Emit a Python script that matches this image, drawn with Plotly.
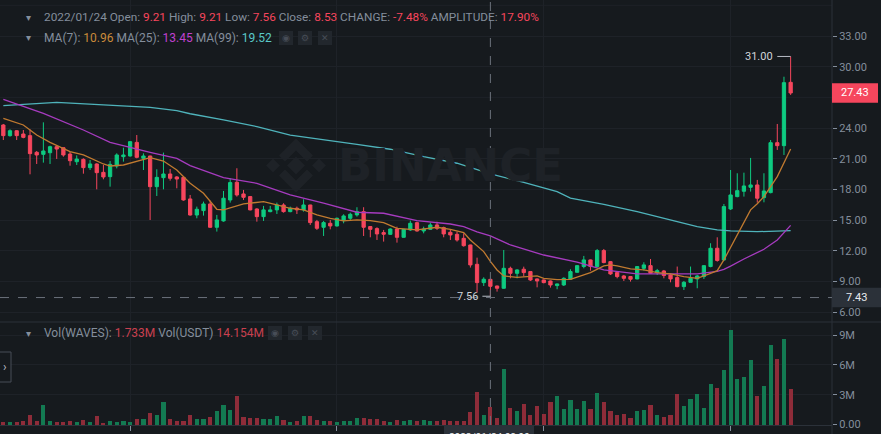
import plotly.graph_objects as go

# ---------------- data (daily candles, WAVES/USDT) ----------------
opens = [24.30,23.26,23.74,23.42,23.26,21.63,21.43,21.59,22.18,22.08,21.46,20.71,20.94,20.13,20.49,19.67,19.25,20.29,21.20,21.27,
         22.60,21.04,21.27,18.27,19.15,19.51,19.22,19.18,17.07,15.50,15.93,16.58,14.30,14.92,16.97,18.70,17.56,17.30,16.09,15.34,
         15.83,16.00,16.48,15.83,16.16,16.00,16.48,14.85,14.30,14.69,14.43,14.95,15.18,15.51,15.83,14.37,14.17,13.78,13.61,14.13,
         13.32,14.04,14.75,13.94,14.10,14.53,14.27,13.81,13.61,13.22,12.57,10.68,8.89,9.21,8.56,8.34,10.29,9.80,10.20,9.97,
         9.25,9.15,9.05,8.60,8.66,9.22,9.90,10.46,11.11,10.46,12.02,10.94,9.87,9.54,9.48,9.25,10.29,10.55,9.87,10.03,
         9.64,9.38,8.50,8.92,9.25,9.48,10.46,12.25,11.11,16.09,17.30,17.82,18.21,18.44,17.20,17.69,22.57,22.28,28.47]
highs = [24.40,23.88,23.80,23.81,23.88,21.76,24.56,22.28,22.28,22.10,21.69,21.33,21.04,20.88,20.55,20.39,20.78,21.53,22.08,22.73,
         23.32,21.53,21.30,19.97,21.60,20.00,19.30,19.20,17.46,16.32,16.81,16.91,15.51,17.85,19.09,20.07,17.95,17.36,16.16,16.39,
         16.39,16.71,16.65,16.32,16.32,17.04,16.50,15.02,14.92,15.02,15.25,15.57,15.73,16.26,16.26,14.40,14.30,14.04,14.20,14.36,
         14.10,14.95,14.85,14.36,14.75,14.85,14.36,14.04,13.87,13.71,12.60,11.33,9.41,9.21,8.60,12.08,10.45,10.20,10.45,9.97,
         9.30,9.20,9.10,8.80,9.41,10.20,10.60,11.50,11.15,12.18,12.18,11.00,9.90,9.64,9.54,10.50,10.88,11.20,10.23,10.13,
         9.80,10.46,9.05,10.46,9.64,10.55,12.74,13.32,16.58,19.90,19.58,19.64,21.08,18.93,19.58,22.83,24.40,29.02,31.00]
lows = [22.83,23.16,22.83,23.00,19.48,20.49,20.62,20.49,20.98,21.20,20.32,20.39,19.54,19.90,18.01,18.99,18.27,20.06,20.72,21.20,
        21.04,19.90,15.01,17.36,18.01,18.86,18.11,16.90,15.44,15.18,15.44,14.25,13.88,14.85,16.71,17.30,16.97,15.95,14.85,14.92,
        15.77,15.60,15.73,15.77,15.60,15.83,14.53,14.04,13.45,14.10,14.37,14.69,15.02,15.34,13.45,13.32,13.06,12.90,13.55,12.80,
        13.29,13.94,13.87,13.71,14.04,14.04,13.32,13.06,12.90,12.41,10.36,7.91,8.56,7.56,8.01,8.30,9.31,9.31,9.48,9.05,
        8.43,8.82,8.40,8.24,8.56,9.15,9.87,10.29,10.06,10.39,10.78,9.64,9.31,9.05,8.99,9.22,10.06,9.74,9.64,9.31,
        8.92,8.43,8.17,8.92,8.34,9.25,10.39,10.94,11.04,15.99,17.23,17.30,17.79,16.71,16.74,17.62,21.86,21.37,27.24]
closes = [23.26,23.74,23.26,23.09,21.50,21.37,21.76,22.18,21.95,21.37,20.81,20.97,20.13,20.49,19.64,19.22,20.45,21.37,21.37,22.67,
          21.14,21.27,18.27,19.18,19.51,19.09,19.02,16.97,15.50,16.06,16.58,14.30,15.02,17.14,18.67,17.46,17.23,16.00,15.34,16.00,
          16.00,16.48,15.83,16.16,16.00,16.48,14.76,14.20,14.76,14.43,15.18,15.41,15.57,15.83,14.30,14.10,13.65,13.62,14.13,13.32,
          14.10,14.69,13.94,14.13,14.53,14.20,13.65,13.55,13.06,12.50,10.62,8.89,9.22,8.53,8.34,10.29,9.80,10.13,9.87,9.15,
          9.05,8.89,8.66,8.76,9.31,9.97,10.55,11.11,10.46,12.02,10.85,9.74,9.48,9.31,9.22,10.46,10.62,9.80,10.06,9.58,
          9.25,8.50,8.92,9.31,9.54,10.55,12.25,11.05,16.32,17.46,17.88,18.34,18.44,17.14,17.85,22.57,22.28,28.44,27.43]
volumes_m = [0.30,0.30,0.30,0.40,0.91,0.40,1.98,0.37,0.23,0.23,0.40,0.30,0.50,0.27,0.87,0.17,0.37,0.30,0.34,0.30,
             0.54,0.57,1.11,0.94,2.25,0.54,0.34,0.37,0.91,0.60,0.57,0.74,1.41,1.98,1.51,2.89,0.77,0.64,0.67,0.57,
             0.54,0.81,0.50,0.30,0.37,0.81,0.87,0.50,0.37,0.37,0.30,0.40,0.40,0.64,0.64,0.54,0.54,0.40,0.30,0.50,
             0.34,0.47,0.40,0.50,0.40,0.40,0.47,0.40,0.40,0.40,1.21,3.26,0.91,1.733,0.70,5.54,1.68,1.41,2.11,0.97,
             1.91,1.01,2.28,2.82,1.54,2.42,1.58,2.32,1.54,3.22,2.28,1.31,0.91,1.01,0.67,1.31,1.48,2.01,0.91,0.74,
             0.91,3.12,1.88,2.52,3.05,1.64,4.06,3.66,5.44,9.47,4.60,4.77,6.45,2.92,3.86,7.96,6.55,8.63,3.59]

# moving averages (candle index -> value)
ma7_idx = [0,3,5,7,10,12,15,16,18,20,22,24,26,28,30,32,33,36,39,41,43,45,47,49,51,53,55,57,59,62,65,67,69,70,72,73,74,75,77,80,
           81,83,85,88,90,91,92,94,96,98,100,102,104,106,107,108,109,110,111,112,113,114,116,117,118]
ma7_val = [24.95,24.30,23.32,22.60,21.69,21.37,20.49,20.29,20.39,20.78,21.11,20.78,19.90,18.60,17.62,16.06,16.00,16.58,16.81,16.48,
           16.16,16.00,15.51,15.18,14.92,15.02,14.95,14.75,14.20,14.04,14.30,14.10,13.78,13.06,11.92,10.96,10.13,9.54,9.41,9.54,
           9.31,9.18,9.20,9.87,10.52,10.62,10.52,10.23,10.13,9.87,9.74,9.48,9.31,9.80,10.06,11.11,12.30,13.50,14.75,16.00,16.60,17.30,19.25,20.60,21.96]
ma25_idx = [0,6,12,16,22,26,28,33,38,43,48,53,57,62,67,69,71,73,76,81,86,90,95,100,104,107,108,109,111,114,116,118]
ma25_val = [26.81,25.44,23.81,22.60,21.63,21.04,20.33,19.16,18.60,17.46,16.65,15.77,15.67,14.95,14.62,14.36,13.85,13.45,12.57,11.59,
            10.90,10.13,9.74,9.74,9.74,10.00,10.19,10.50,11.20,12.15,13.06,14.49]
ma99_idx = [0,8,15,22,26,28,33,38,43,48,53,58,63,68,73,78,83,85,90,95,100,104,107,109,113,118]
ma99_val = [26.19,26.52,26.26,26.03,25.70,25.40,24.79,24.14,23.32,22.83,22.41,21.93,21.20,20.56,19.52,18.70,17.78,17.15,16.55,15.83,
            15.02,14.37,14.04,13.94,13.87,13.97]

date_tick_idx = [19, 50, 81, 109]
date_tick_text = ["12/01", "2022", "02/01", "03/01"]
price_ticks = [6, 9, 12, 15, 18, 21, 24, 30, 33]
price_grid_extra = [27, 36]
vol_ticks = [0, 3e6, 6e6, 9e6]
vol_tick_text = ["0.00", "3M", "6M", "9M"]

cross_idx = 73
cross_price = 7.43
last_price = 27.43
high_idx, high_val = 118, 31.00
low_idx, low_val = 73, 7.56

# ---------------- styling ----------------
BG = "#161A1E"
GRID = "#1E2228"
TXT = "#848E9C"
GREEN = "#0ECB81"
RED = "#F6465D"
VGREEN = "#137A52"
VRED = "#8E2C39"
FONT = "Roboto"
W, H = 881, 434

def px(x):
    return x / W

def py(y):
    return 1 - y / H

x_idx = list(range(len(opens)))
vol = [v * 1e6 for v in volumes_m]
vcol = [VGREEN if c >= o else VRED for o, c in zip(opens, closes)]

fig = go.Figure()
fig.add_trace(go.Candlestick(
    x=x_idx, open=opens, high=highs, low=lows, close=closes,
    increasing=dict(line=dict(color=GREEN, width=1), fillcolor=GREEN),
    decreasing=dict(line=dict(color=RED, width=1), fillcolor=RED),
    whiskerwidth=0, xaxis="x", yaxis="y", showlegend=False, hoverinfo="skip"))
fig.add_trace(go.Scatter(x=ma99_idx, y=ma99_val, mode="lines", line=dict(color="#4FB3BB", width=1.3),
                         xaxis="x", yaxis="y", showlegend=False, hoverinfo="skip"))
fig.add_trace(go.Scatter(x=ma25_idx, y=ma25_val, mode="lines", line=dict(color="#A63BBF", width=1.3),
                         xaxis="x", yaxis="y", showlegend=False, hoverinfo="skip"))
fig.add_trace(go.Scatter(x=ma7_idx, y=ma7_val, mode="lines", line=dict(color="#C07A30", width=1.3),
                         xaxis="x", yaxis="y", showlegend=False, hoverinfo="skip"))
fig.add_trace(go.Bar(x=x_idx, y=vol, marker=dict(color=vcol, line=dict(width=0)), width=0.62,
                     xaxis="x2", yaxis="y2", showlegend=False, hoverinfo="skip"))

XD = [0, px(832)]
fig.update_layout(
    width=W, height=H, margin=dict(l=0, r=0, t=0, b=0, pad=0, autoexpand=False),
    paper_bgcolor=BG, plot_bgcolor=BG,
    font=dict(family=FONT, color=TXT, size=11),
    bargap=0,
    xaxis=dict(domain=XD, range=[-0.5, 124.2], anchor="y", showticklabels=False, automargin=False,
               tickvals=date_tick_idx, showgrid=True, gridcolor=GRID, zeroline=False,
               rangeslider=dict(visible=False), showline=False),
    yaxis=dict(domain=[py(322), 1], range=[5.04, 36.52], side="right", anchor="x", automargin=False,
               tickvals=price_ticks, ticktext=["%.2f" % t for t in price_ticks],
               ticks="outside", ticklen=4, tickcolor=TXT, showgrid=True, gridcolor=GRID,
               zeroline=False, tickfont=dict(size=11, color=TXT)),
    xaxis2=dict(domain=XD, range=[-0.5, 124.2], anchor="y2", matches="x", automargin=False,
                tickvals=date_tick_idx, ticktext=date_tick_text, ticks="outside", ticklen=5,
                tickcolor=TXT, showgrid=True, gridcolor=GRID, zeroline=False,
                showline=True, linecolor="#2B3139", tickfont=dict(size=11, color=TXT)),
    yaxis2=dict(domain=[py(425), py(322)], range=[-0.05e6, 10.32e6], side="right", anchor="x2", automargin=False,
                tickvals=vol_ticks, ticktext=vol_tick_text, ticks="outside", ticklen=4,
                tickcolor=TXT, showgrid=True, gridcolor=GRID, zeroline=False,
                tickfont=dict(size=11, color=TXT)),
)

shapes = []
# pane separators / axis line
shapes.append(dict(type="line", xref="paper", yref="paper", x0=0, x1=1, y0=py(322), y1=py(322),
                   line=dict(color="#2B3139", width=1)))
shapes.append(dict(type="line", xref="paper", yref="paper", x0=px(832), x1=px(832), y0=0, y1=1,
                   line=dict(color="#2B3139", width=1)))
for g in price_grid_extra:
    shapes.append(dict(type="line", xref="x", yref="y", x0=-0.5, x1=124.2, y0=g, y1=g,
                       line=dict(color=GRID, width=1), layer="below"))
# crosshair
shapes.append(dict(type="line", xref="x", yref="y", x0=-0.5, x1=124.2, y0=cross_price, y1=cross_price,
                   line=dict(color="#6B717B", width=1, dash="dash")))
shapes.append(dict(type="line", xref="x", yref="paper", x0=cross_idx, x1=cross_idx, y0=py(425), y1=1,
                   line=dict(color="#6B717B", width=1, dash="dash")))
# high / low markers
shapes.append(dict(type="line", xref="x", yref="y", x0=high_idx - 2.0, x1=high_idx, y0=high_val, y1=high_val,
                   line=dict(color="#B7BDC6", width=1)))
shapes.append(dict(type="line", xref="x", yref="y", x0=low_idx - 1.2, x1=low_idx, y0=low_val, y1=low_val,
                   line=dict(color="#B7BDC6", width=1)))
# price label boxes
shapes.append(dict(type="rect", xref="paper", yref="y", x0=px(832), x1=px(878), y0=last_price - 0.95, y1=last_price + 0.95,
                   fillcolor=RED, line=dict(width=0)))
shapes.append(dict(type="rect", xref="paper", yref="y", x0=px(832), x1=px(881), y0=cross_price - 0.95, y1=cross_price + 0.95,
                   fillcolor="#2B3139", line=dict(width=0)))
# crosshair date box at bottom
shapes.append(dict(type="rect", xref="paper", yref="paper", x0=px(444), x1=px(534), y0=py(440), y1=py(425),
                   fillcolor="#2B3139", line=dict(width=0)))
# left collapse button
shapes.append(dict(type="rect", xref="paper", yref="paper", x0=px(-4), x1=px(11), y0=py(382), y1=py(352),
                   fillcolor=BG, line=dict(color="#474D57", width=1)))
# icon boxes
for bx, by in [(279, 31), (298, 31), (318, 31), (268, 326), (288, 326), (308, 326)]:
    shapes.append(dict(type="rect", xref="paper", yref="paper", x0=px(bx), x1=px(bx + 14), y0=py(by + 14), y1=py(by),
                       fillcolor="#22272D", line=dict(width=0)))

# watermark logo
def poly(pts):
    return "M " + " L ".join("%f,%f" % (px(a), py(b)) for a, b in pts) + " Z"
WM = "#1E2227"
cx, cy = 296, 165.5
logo = [
    [(cx, cy - 9), (cx + 9, cy), (cx, cy + 9), (cx - 9, cy)],
    [(cx - 23, cy - 7), (cx - 16, cy), (cx - 23, cy + 7), (cx - 30, cy)],
    [(cx + 23, cy - 7), (cx + 30, cy), (cx + 23, cy + 7), (cx + 16, cy)],
    [(cx - 17, cy - 10), (cx, cy - 27), (cx + 17, cy - 10), (cx + 11, cy - 4), (cx, cy - 15), (cx - 11, cy - 4)],
    [(cx - 17, cy + 10), (cx, cy + 27), (cx + 17, cy + 10), (cx + 11, cy + 4), (cx, cy + 15), (cx - 11, cy + 4)],
]
for pts in logo:
    shapes.append(dict(type="path", xref="paper", yref="paper", path=poly(pts), fillcolor=WM, line=dict(width=0),
                       layer="below"))
fig.update_layout(shapes=shapes)

def sp(t, c):
    return '<span style="color:%s">%s</span>' % (c, t)

ann = []
ann.append(dict(x=px(336), y=py(165), xref="paper", yref="paper", xanchor="left", yanchor="middle",
                text="<b>BINANCE</b>", showarrow=False, font=dict(size=45, color=WM, family="DejaVu Sans")))
line1 = (sp("2022/01/24 Open: ", TXT) + sp("9.21", RED) + sp(" High: ", TXT) + sp("9.21", RED) +
         sp(" Low: ", TXT) + sp("7.56", RED) + sp(" Close: ", TXT) + sp("8.53", RED) +
         sp(" CHANGE: ", TXT) + sp("-7.48%", RED) + sp(" AMPLITUDE: ", TXT) + sp("17.90%", RED))
line2 = (sp("MA(7): ", TXT) + sp("10.96", "#C98A3A") + sp(" MA(25): ", TXT) + sp("13.45", "#C040D0") +
         sp(" MA(99): ", TXT) + sp("19.52", "#5AC8C8"))
line3 = (sp("Vol(WAVES): ", TXT) + sp("1.733M", "#C9404F") + sp(" Vol(USDT) ", TXT) + sp("14.154M", "#C9404F"))
for txt, yy, xx, fs in [(line1, 17, 42, 11.8), (line2, 38, 42, 12), (line3, 333, 42, 12)]:
    ann.append(dict(x=px(xx), y=py(yy), xref="paper", yref="paper", xanchor="left", yanchor="middle",
                    text=txt, showarrow=False, font=dict(size=fs, family=FONT)))
    ann.append(dict(x=px(28), y=py(yy), xref="paper", yref="paper", xanchor="center", yanchor="middle",
                    text="▾", showarrow=False, font=dict(size=10, color=TXT)))
for gx, gy, g in [(286, 38, "◉"), (305, 38, "⚙"), (325, 38, "✕"), (275, 333, "◉"), (295, 333, "⚙"), (315, 333, "✕")]:
    ann.append(dict(x=px(gx), y=py(gy), xref="paper", yref="paper", xanchor="center", yanchor="middle",
                    text=g, showarrow=False, font=dict(size=9, color="#474D57", family="DejaVu Sans")))
ann.append(dict(x=px(5), y=py(367), xref="paper", yref="paper", xanchor="center", yanchor="middle",
                text="›", showarrow=False, font=dict(size=12, color="#B7BDC6")))
ann.append(dict(x=px(855), y=last_price, xref="paper", yref="y", xanchor="center", yanchor="middle",
                text="%.2f" % last_price, showarrow=False, font=dict(size=11, color="#FFFFFF")))
ann.append(dict(x=px(856), y=cross_price, xref="paper", yref="y", xanchor="center", yanchor="middle",
                text="%.2f" % cross_price, showarrow=False, font=dict(size=11, color="#EAECEF")))
ann.append(dict(x=high_idx - 2.3, y=high_val, xref="x", yref="y", xanchor="right", yanchor="middle",
                text="%.2f" % high_val, showarrow=False, font=dict(size=11, color="#D0D4DA")))
ann.append(dict(x=low_idx - 1.5, y=low_val, xref="x", yref="y", xanchor="right", yanchor="middle",
                text="%.2f" % low_val, showarrow=False, font=dict(size=11, color="#D0D4DA")))
ann.append(dict(x=px(489), y=py(437), xref="paper", yref="paper", xanchor="center", yanchor="middle",
                text="2022/01/24 08:00", showarrow=False, font=dict(size=10, color="#EAECEF")))
fig.update_layout(annotations=ann)

fig.write_html("out.html", config={"displayModeBar": False},
               post_script="document.body.style.margin='0';document.body.style.background='%s';" % BG)
